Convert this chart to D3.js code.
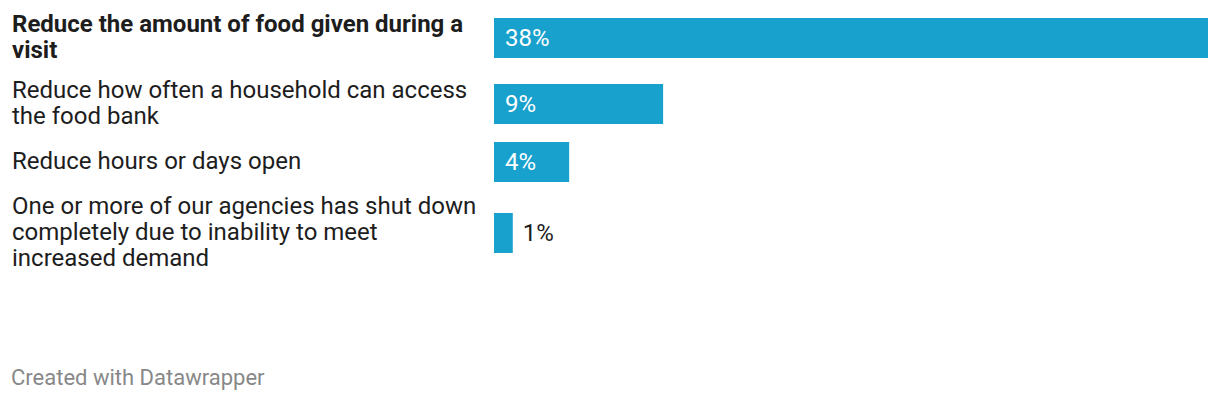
<!DOCTYPE html>
<html>
<head>
<meta charset="utf-8">
<script src="https://cdn.jsdelivr.net/npm/d3@7"></script>
<style>
  html, body { margin: 0; padding: 0; background: #fff; }
  svg { display: block; font-family: Roboto, "Noto Sans", sans-serif; }
</style>
</head>
<body>
<svg id="chart" width="1220" height="400"></svg>
<script>
// ---- data ----
const categories = [
  "Reduce the amount of food given during a visit",
  "Reduce how often a household can access the food bank",
  "Reduce hours or days open",
  "One or more of our agencies has shut down completely due to inability to meet increased demand"
];
const values = [38, 9, 4, 1];
const highlighted = [true, false, false, false];
const footerText = "Created with Datawrapper";

// ---- layout ----
const labelX = 12, labelWidth = 470;
const barX0 = 494, barX1 = 1208;
const barH = 40, lineH = 26, textBlock = 30, rowGap = 10, topY = 10;
const fontSize = 24;
const barColor = "#18a1cd";

const svg = d3.select("#chart");

const x = d3.scaleLinear().domain([0, d3.max(values)]).range([barX0, barX1]);

// measure/wrap text
const measurer = svg.append("text").attr("font-size", fontSize).attr("visibility", "hidden");
function wrap(str, bold) {
  measurer.attr("font-weight", bold ? 700 : 400);
  const words = str.split(" ");
  const lines = [];
  let cur = "";
  words.forEach(w => {
    const test = cur ? cur + " " + w : w;
    measurer.text(test);
    if (measurer.node().getComputedTextLength() > labelWidth && cur) {
      lines.push(cur);
      cur = w;
    } else cur = test;
  });
  if (cur) lines.push(cur);
  return lines;
}

const rows = categories.map((c, i) => ({
  label: c, value: values[i], bold: highlighted[i], lines: wrap(c, highlighted[i])
}));
measurer.remove();

let yCursor = topY;
rows.forEach(r => {
  const h = Math.max(barH, (r.lines.length - 1) * lineH + textBlock);
  r.center = yCursor + h / 2;
  yCursor += h + rowGap;
});

const g = svg.append("g");
const row = g.selectAll("g.row").data(rows).join("g").attr("class", "row");

row.append("text")
  .attr("x", labelX)
  .attr("font-size", fontSize)
  .attr("font-weight", d => d.bold ? 700 : 400)
  .attr("fill", "#1d1d1d")
  .each(function(d) {
    const t = d3.select(this);
    d.lines.forEach((ln, k) => {
      t.append("tspan")
        .attr("x", labelX)
        .attr("y", d.center + (k - (d.lines.length - 1) / 2) * lineH)
        .attr("dy", "0.28em")
        .text(ln);
    });
  });

row.append("rect")
  .attr("x", x(0))
  .attr("y", d => d.center - barH / 2)
  .attr("width", d => x(d.value) - x(0))
  .attr("height", barH)
  .attr("fill", barColor);

row.append("text")
  .attr("font-size", fontSize)
  .attr("dy", "0.35em")
  .attr("y", d => d.center)
  .each(function(d) {
    const t = d3.select(this).text(d.value + "%");
    const tw = this.getComputedTextLength();
    const bw = x(d.value) - x(0);
    if (bw > tw + 22) {
      t.attr("x", x(0) + 11).attr("fill", "#ffffff");
    } else {
      t.attr("x", x(d.value) + 10).attr("fill", "#1d1d1d");
    }
  });

svg.append("text")
  .attr("x", 11)
  .attr("y", 385)
  .attr("font-size", 22)
  .attr("fill", "#888888")
  .text(footerText);
</script>
</body>
</html>
